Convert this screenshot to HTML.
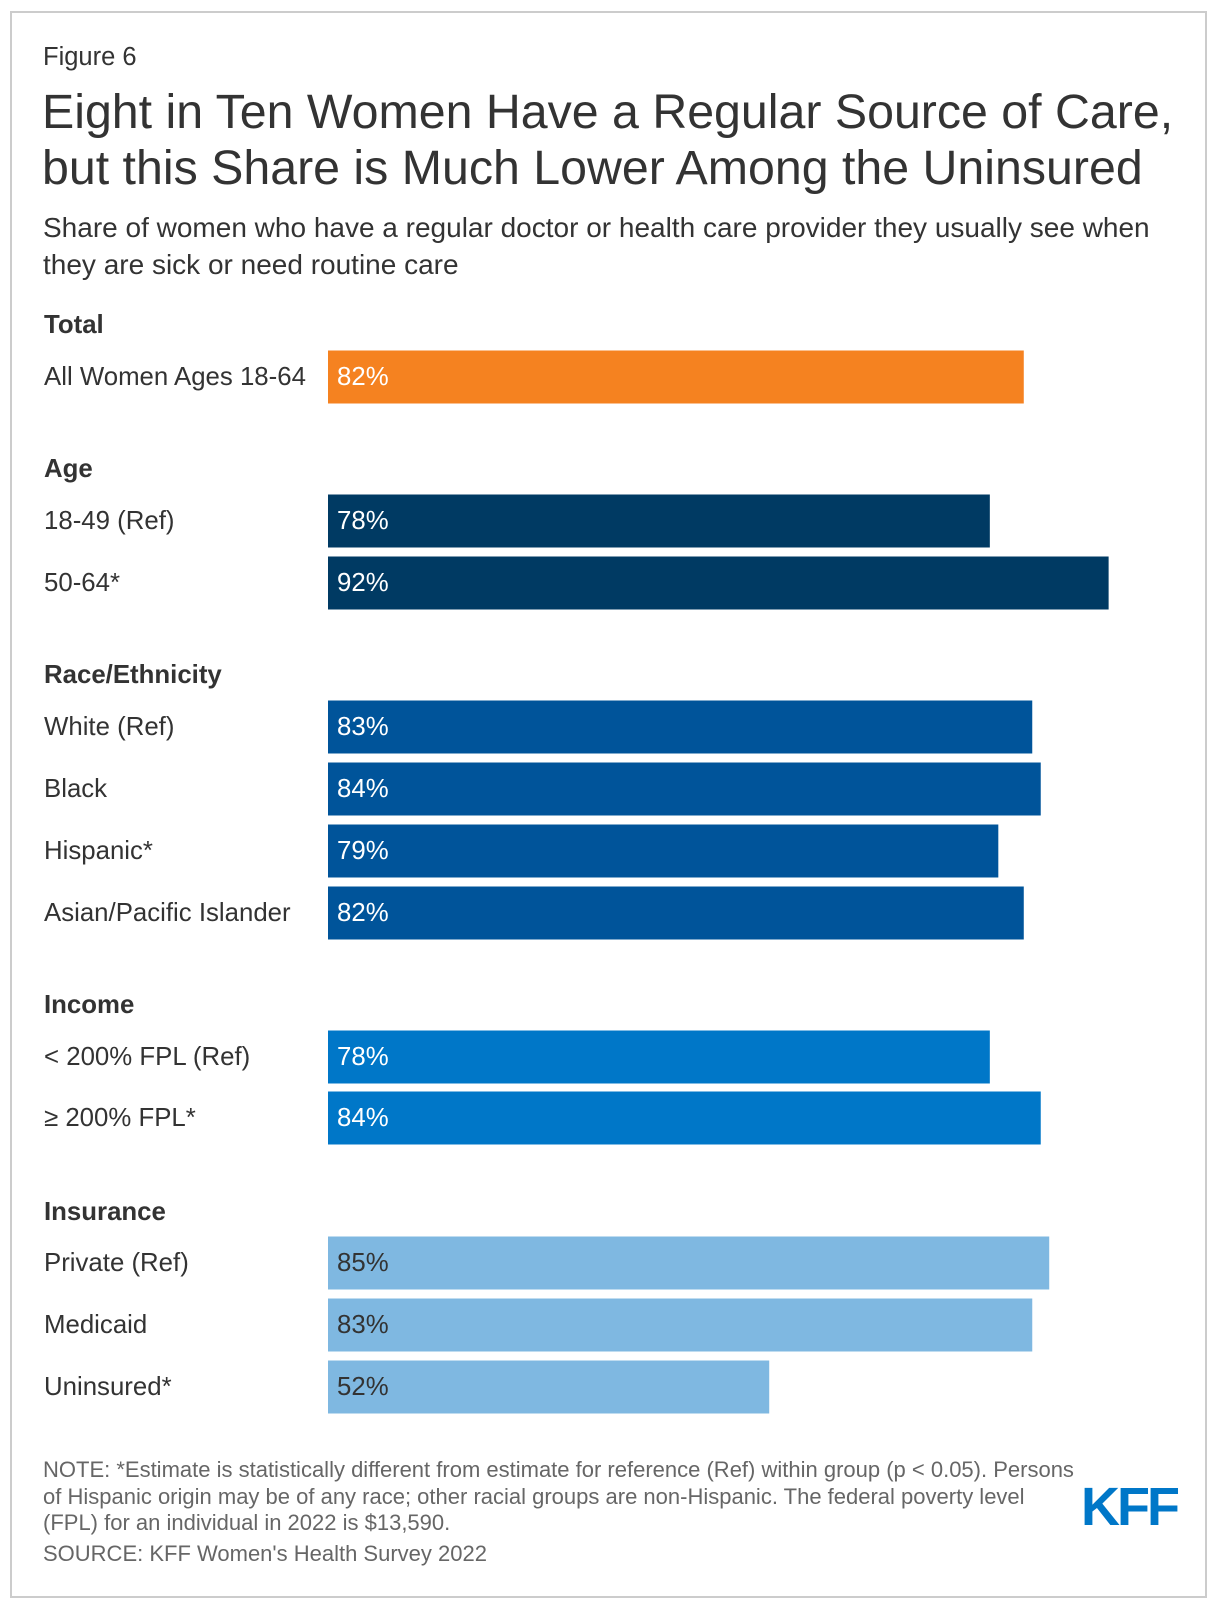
<!DOCTYPE html>
<html><head><meta charset="utf-8"><style>
body{margin:0;width:1220px;height:1610px;background:#fff;font-family:"Liberation Sans",Arial,sans-serif;color:#333;position:relative;overflow:hidden}
.frame{position:absolute;left:10px;top:11px;width:1197px;height:1587px;border:2px solid #ccc;box-sizing:border-box}
.t{position:absolute;white-space:nowrap}
.note{position:absolute;left:43px;font-size:22px;color:#666;white-space:nowrap}
</style></head><body>
<div class="frame"></div>
<div class="t" style="left:43px;top:43px;font-size:25.5px">Figure 6</div>
<div class="t" style="left:42px;top:84px;font-size:48.3px;line-height:56px">Eight in Ten Women Have a Regular Source of Care,<br>but this Share is Much Lower Among the Uninsured</div>
<div class="t" style="left:43px;top:209px;font-size:28px;line-height:37px">Share of women who have a regular doctor or health care provider they usually see when<br>they are sick or need routine care</div>
<svg id="chart" width="1220" height="1610" style="position:absolute;left:0;top:0"></svg>
<div class="note" style="top:1457px;line-height:26.5px">NOTE: *Estimate is statistically different from estimate for reference (Ref) within group (p &lt; 0.05). Persons<br>of Hispanic origin may be of any race; other racial groups are non-Hispanic. The federal poverty level<br>(FPL) for an individual in 2022 is $13,590.</div>
<div class="note" style="top:1541px">SOURCE: KFF Women's Health Survey 2022</div>
<div class="t" style="left:1081px;top:1476px;font-size:54px;font-weight:bold;color:#0077c8;letter-spacing:-3px">KFF</div>
<script>
const groups=["Total","Age","Race/Ethnicity","Income","Insurance"];
const groupY=[325,469,675,1005,1212];
const categories=["All Women Ages 18-64","18-49 (Ref)","50-64*","White (Ref)","Black","Hispanic*","Asian/Pacific Islander","< 200% FPL (Ref)","≥ 200% FPL*","Private (Ref)","Medicaid","Uninsured*"];
const values=[82,78,92,83,84,79,82,78,84,85,83,52];
const catGroup=[0,1,1,2,2,2,2,3,3,4,4,4];
const rowY=[377,521,583,727,789,851,913,1057,1118,1263,1325,1387];
const colors=["#f58220","#003a63","#00549a","#0077c8","#7fb8e1"];
const textColors=["#fff","#fff","#fff","#fff","#333"];
const svg=document.getElementById('chart');
const NS="http://www.w3.org/2000/svg";
const x0=328, pxPer=8.485, barH=53;
const xs=v=>v*pxPer;
function txt(x,y,s,size,w,fill){const t=document.createElementNS(NS,'text');t.setAttribute('x',x);t.setAttribute('y',y);t.setAttribute('font-size',size);t.setAttribute('font-weight',w);t.setAttribute('fill',fill);t.setAttribute('dominant-baseline','central');t.setAttribute('font-family','"Liberation Sans",Arial,sans-serif');t.textContent=s;svg.appendChild(t);return t;}
groups.forEach((g,i)=>{const t=txt(44,groupY[i],g,25.8,'bold','#333');

});
categories.forEach((c,i)=>{
const l=txt(44,rowY[i],c,25.8,'normal','#333');


const r=document.createElementNS(NS,'rect');
r.setAttribute('x',x0);r.setAttribute('y',rowY[i]-barH/2);r.setAttribute('width',xs(values[i]));r.setAttribute('height',barH);r.setAttribute('fill',colors[catGroup[i]]);


svg.appendChild(r);
const v=txt(x0+9,rowY[i],values[i]+'%',25.8,'normal',textColors[catGroup[i]]);


});
</script>
</body></html>
